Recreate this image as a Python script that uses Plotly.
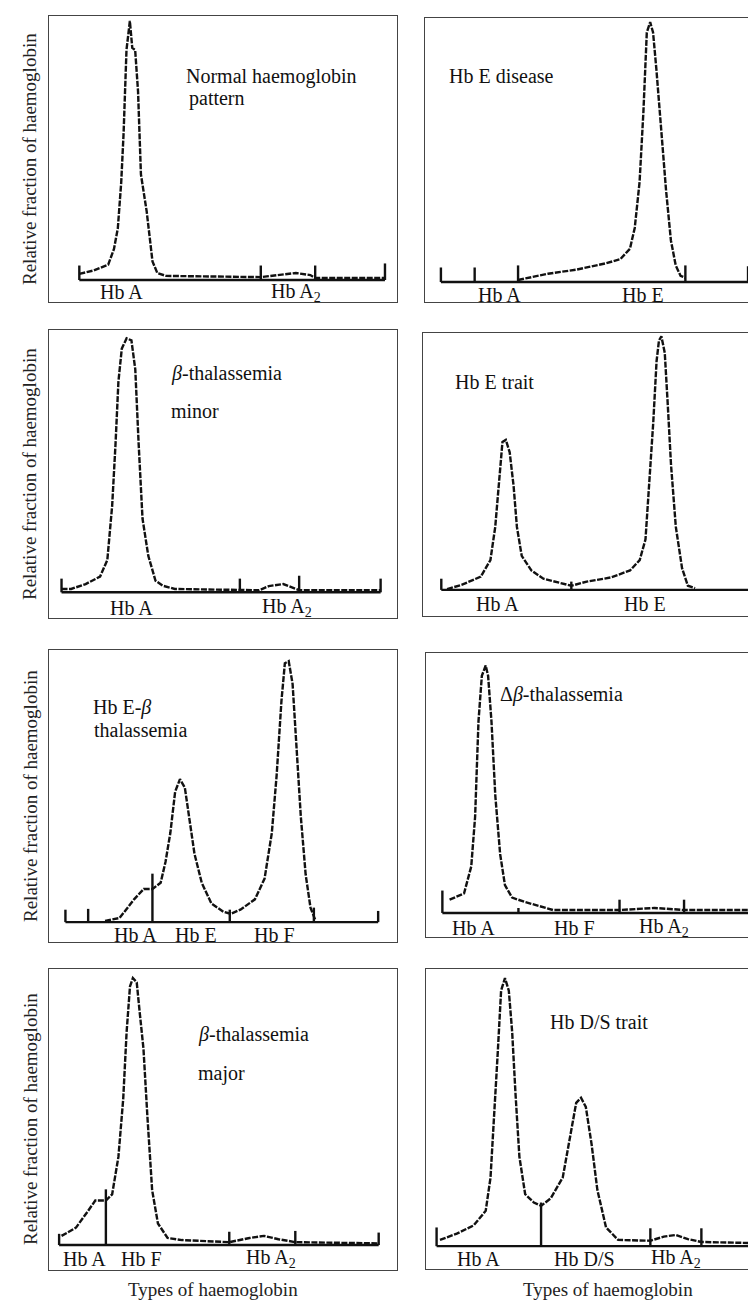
import plotly.graph_objects as go

# ---- panel data: x = retention position, y = signal above baseline (arbitrary units) ----
# 1 Normal haemoglobin pattern
p1_x = [63, 93, 123, 135, 143, 150, 155, 161, 168, 173, 179, 185, 191, 203, 210, 215, 225, 243, 440, 473, 513, 543, 553, 698]
p1_y = [15, 23, 37, 75, 125, 235, 355, 555, 625, 560, 555, 455, 255, 165, 95, 45, 17, 10, 7, 12, 17, 12, 5, 5]
p1_ticks = [63, 440, 553, 698]
p1_tick_h = [35, 35, 35, 40]

# 2 Hb E disease
p2_x = [193, 255, 315, 375, 405, 425, 435, 445, 453, 460, 467, 473, 480, 490, 500, 510, 520, 530, 540]
p2_y = [5, 20, 30, 45, 55, 80, 130, 240, 410, 600, 625, 600, 510, 360, 220, 100, 40, 15, 10]
p2_ticks = [33, 103, 193, 540, 670]
p2_tick_h = [35, 35, 40, 40, 38]

# 3 beta-thalassemia minor
p3_x = [26, 46, 76, 106, 121, 131, 138, 144, 151, 161, 171, 179, 186, 194, 206, 221, 236, 261, 436, 456, 486, 506, 519, 688]
p3_y = [8, 8, 20, 38, 78, 208, 358, 508, 588, 613, 608, 538, 358, 178, 88, 28, 16, 8, 5, 15, 20, 12, 5, 5]
p3_ticks = [26, 396, 519, 688]
p3_tick_h = [33, 33, 40, 33]

# 4 Hb E trait
p4_x = [50, 80, 120, 140, 150, 158, 165, 172, 180, 188, 195, 205, 225, 250, 285, 308, 340, 390, 430, 450, 462,
        470, 478, 485, 490, 495, 502, 508, 515, 525, 538, 550, 565]
p4_y = [2, 12, 32, 72, 152, 272, 357, 362, 332, 252, 152, 82, 47, 27, 17, 10, 20, 30, 47, 72, 122,
        252, 402, 552, 602, 612, 572, 452, 302, 152, 52, 10, 4]
p4_ticks = [38, 308, 685]
p4_tick_h = [27, 20, 37]

# 5 Hb E-beta thalassemia
p5_x = [116, 146, 176, 196, 214, 231, 241, 251, 261, 271, 281, 291, 301, 316, 336, 361, 376, 396, 426, 446,
        461, 471, 481, 488, 496, 504, 511, 521, 531, 541, 551]
p5_y = [3, 10, 55, 80, 80, 95, 145, 215, 315, 345, 325, 245, 165, 95, 45, 25, 20, 30, 55, 105,
        215, 355, 535, 625, 630, 575, 435, 255, 115, 35, 5]
p5_ticks = [34, 81, 214, 374, 548, 681]
p5_tick_h = [30, 32, 117, 30, 35, 27]

# 6 delta-beta thalassemia
p6_x = [49, 79, 94, 102, 109, 116, 124, 129, 136, 144, 154, 164, 179, 204, 234, 264, 402, 434, 474, 514, 536, 694]
p6_y = [32, 47, 112, 232, 462, 572, 597, 572, 462, 282, 142, 67, 37, 27, 17, 7, 7, 9, 12, 9, 7, 7]
p6_ticks = [34, 192, 402, 536, 692]
p6_tick_h = [54, 12, 32, 32, 17]

# 7 beta-thalassemia major
p7_x = [26, 56, 81, 96, 118, 131, 144, 154, 161, 168, 174, 182, 188, 196, 204, 214, 226, 246, 276, 374,
        416, 446, 476, 511, 684]
p7_y = [22, 42, 82, 107, 107, 122, 212, 352, 512, 622, 642, 632, 562, 472, 312, 132, 52, 17, 12, 7,
        17, 22, 14, 7, 4]
p7_ticks = [21, 118, 374, 511, 684]
p7_tick_h = [27, 134, 32, 34, 30]

# 8 Hb D/S trait
p8_x = [29, 64, 99, 124, 134, 142, 149, 156, 164, 172, 179, 186, 194, 206, 224, 239, 259, 284, 299, 312,
        322, 332, 344, 356, 374, 399, 466, 494, 519, 544, 572, 700]
p8_y = [15, 30, 50, 85, 165, 315, 465, 615, 645, 615, 515, 365, 215, 125, 105, 97, 115, 165, 265, 345,
        357, 335, 245, 135, 45, 15, 13, 23, 27, 17, 10, 7]
p8_ticks = [22, 239, 466, 572]
p8_tick_h = [45, 105, 43, 43]

panels = [
    dict(x=p1_x, y=p1_y, ticks=p1_ticks, th=p1_tick_h, base=(63, 698), xr=723, top=637, bot=-53,
         box=(41, 389, 8, 294),
         labels=[("Hb A", 151), ("Hb A<sub>2</sub>", 513)], ly=-30,
         title=[("Normal haemoglobin", 280, 490), ("pattern", 286, 437)]),
    dict(x=p2_x, y=p2_y, ticks=p2_ticks, th=p2_tick_h, base=(33, 670), xr=701, top=635, bot=-48,
         box=(417, 755, 10, 294),
         labels=[("Hb A", 155), ("Hb E", 453)], ly=-30,
         title=[("Hb E disease", 45, 495)]),
    dict(x=p3_x, y=p3_y, ticks=p3_ticks, th=p3_tick_h, base=(26, 688), xr=722, top=633, bot=-62,
         box=(41, 389, 322, 610),
         labels=[("Hb A", 171), ("Hb A<sub>2</sub>", 494)], ly=-37,
         title=[("<i>β</i>-thalassemia", 249, 528), ("minor", 249, 438)]),
    dict(x=p4_x, y=p4_y, ticks=p4_ticks, th=p4_tick_h, base=(38, 685), xr=706, top=620, bot=-63,
         box=(415, 755, 325, 608),
         labels=[("Hb A", 155), ("Hb E", 462)], ly=-35,
         title=[("Hb E trait", 62, 502)]),
    dict(x=p5_x, y=p5_y, ticks=p5_ticks, th=p5_tick_h, base=(34, 681), xr=720, top=657, bot=-48,
         box=(41, 389, 642, 934),
         labels=[("Hb A", 179), ("Hb E", 304), ("Hb F", 466)], ly=-30,
         title=[("Hb E-<i>β</i>", 86, 517), ("thalassemia", 88, 465)]),
    dict(x=p6_x, y=p6_y, ticks=p6_ticks, th=p6_tick_h, base=(34, 694), xr=700, top=627, bot=-58,
         box=(418, 755, 645, 929),
         labels=[("Hb A", 99), ("Hb F", 309), ("Hb A<sub>2</sub>", 494)], ly=-36,
         title=[("Δ<i>β</i>-thalassemia", 149, 527)]),
    dict(x=p7_x, y=p7_y, ticks=p7_ticks, th=p7_tick_h, base=(21, 684), xr=722, top=664, bot=-60,
         box=(41, 389, 961, 1262),
         labels=[("Hb A", 73), ("Hb F", 191), ("Hb A<sub>2</sub>", 461)], ly=-33,
         title=[("<i>β</i>-thalassemia", 306, 507), ("major", 306, 412)]),
    dict(x=p8_x, y=p8_y, ticks=p8_ticks, th=p8_tick_h, base=(22, 700), xr=700, top=667, bot=-55,
         box=(418, 755, 961, 1261),
         labels=[("Hb A", 109), ("Hb D/S", 329), ("Hb A<sub>2</sub>", 519)], ly=-30,
         title=[("Hb D/S trait", 254, 540)]),
]

W, H = 756, 1302
FONT = "Liberation Serif, DejaVu Serif, serif"
fig = go.Figure()
annotations = []
layout_axes = {}

for i, p in enumerate(panels, start=1):
    xa = "x" if i == 1 else f"x{i}"
    ya = "y" if i == 1 else f"y{i}"
    # baseline + ticks
    bx, by = [p["base"][0], p["base"][1], None], [0, 0, None]
    for t, h in zip(p["ticks"], p["th"]):
        bx += [t, t, None]
        by += [0, h, None]
    fig.add_trace(go.Scatter(x=bx, y=by, mode="lines", xaxis=xa, yaxis=ya,
                             line=dict(color="#111", width=2.4), hoverinfo="skip", showlegend=False))
    fig.add_trace(go.Scatter(x=p["x"], y=p["y"], mode="lines", xaxis=xa, yaxis=ya,
                             line=dict(color="#111", width=2.4, dash="6px,1.5px"), showlegend=False))
    x0, x1, y0, y1 = p["box"]
    ax = dict(domain=[x0 / W, x1 / W], range=[0, p["xr"]], showline=True, mirror=True,
              linecolor="#444", linewidth=1.2, showgrid=False, zeroline=False, showticklabels=False,
              ticks="", fixedrange=True)
    ay = dict(domain=[1 - y1 / H, 1 - y0 / H], range=[p["bot"], p["top"]], showline=True, mirror=True,
              linecolor="#444", linewidth=1.2, showgrid=False, zeroline=False, showticklabels=False,
              ticks="", fixedrange=True)
    if i > 1:
        ax["anchor"] = ya
        ay["anchor"] = xa
    layout_axes["xaxis" if i == 1 else f"xaxis{i}"] = ax
    layout_axes["yaxis" if i == 1 else f"yaxis{i}"] = ay
    for txt, lx in p["labels"]:
        annotations.append(dict(x=lx, y=p["ly"], xref=xa, yref=ya, text=txt, showarrow=False,
                                xanchor="center", yanchor="middle",
                                font=dict(family=FONT, size=20, color="#111")))
    for txt, tx, ty in p["title"]:
        annotations.append(dict(x=tx, y=ty, xref=xa, yref=ya, text=txt, showarrow=False,
                                xanchor="left", yanchor="middle",
                                font=dict(family=FONT, size=20, color="#111")))

# shared axis titles
row_centres = [151, 466, 788, 1111]
for yc in row_centres:
    annotations.append(dict(x=22 / W, y=1 - yc / H, xref="paper", yref="paper", textangle=-90,
                            xanchor="center", yanchor="middle",
                            text="Relative fraction of haemoglobin", showarrow=False,
                            font=dict(family=FONT, size=19, color="#222")))
for xc in [205, 600]:
    annotations.append(dict(x=xc / W, y=1 - 1281 / H, xref="paper", yref="paper",
                            xanchor="center", yanchor="middle",
                            text="Types of haemoglobin", showarrow=False,
                            font=dict(family=FONT, size=19, color="#222")))

fig.update_layout(width=W, height=H, margin=dict(l=0, r=0, t=0, b=0),
                  paper_bgcolor="white", plot_bgcolor="white",
                  annotations=annotations, **layout_axes)
fig.write_html("out.html")
